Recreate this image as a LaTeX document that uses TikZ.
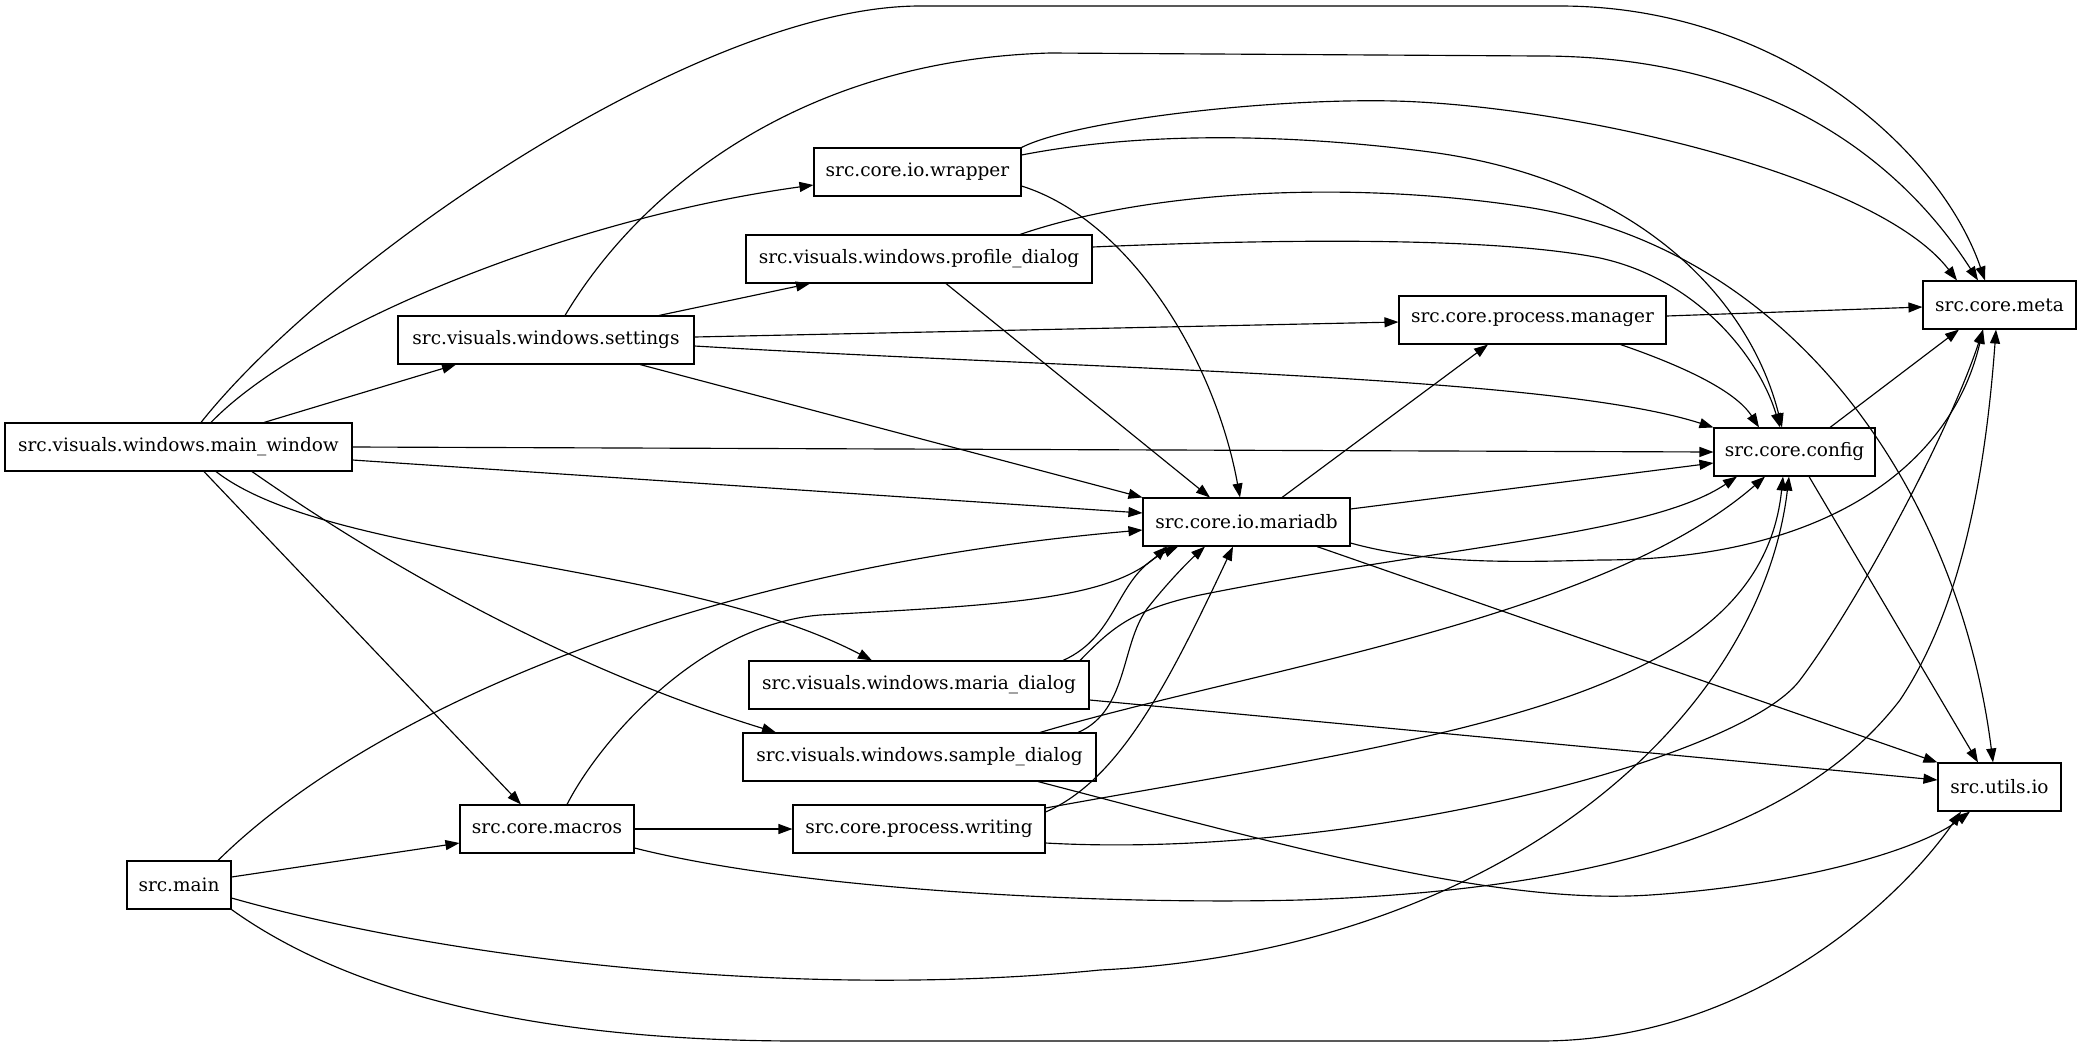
\documentclass[tikz,border=0pt]{standalone}
\usepackage{fontspec}
\setmainfont{DejaVu Serif}
\usetikzlibrary{arrows.meta}
\begin{document}
\begin{tikzpicture}[x=1pt,y=-1pt,
  box/.style={draw, line width=1.1pt, minimum height=48pt, inner sep=0pt, fill=white, font=\fontsize{18.5}{20}\selectfont},
  edge/.style={line width=1.15pt, line join=round, -{Triangle[length=14pt,width=10pt]}}]
\fill[white] (0,0) rectangle (2080,1045);
\useasboundingbox (0,0) rectangle (2080,1045);
% nodes
\node[box, minimum width=347pt] (mw) at (178.5,447) {src.visuals.windows.main\_window};
\node[box, minimum width=104pt] (smain) at (179,885) {src.main};
\node[box, minimum width=296pt] (settings) at (546,340) {src.visuals.windows.settings};
\node[box, minimum width=174pt] (macros) at (547,829) {src.core.macros};
\node[box, minimum width=207pt] (wrapper) at (917.5,172) {src.core.io.wrapper};
\node[box, minimum width=346pt] (profile) at (919,259) {src.visuals.windows.profile\_dialog};
\node[box, minimum width=340pt] (mdialog) at (919,685) {src.visuals.windows.maria\_dialog};
\node[box, minimum width=353pt] (sdialog) at (919.5,757) {src.visuals.windows.sample\_dialog};
\node[box, minimum width=252pt] (writing) at (919,829) {src.core.process.writing};
\node[box, minimum width=207pt] (mariadb) at (1246.5,522) {src.core.io.mariadb};
\node[box, minimum width=267pt] (pm) at (1532.5,320) {src.core.process.manager};
\node[box, minimum width=161pt] (config) at (1794.5,452) {src.core.config};
\node[box, minimum width=153pt] (meta) at (1999.5,305) {src.core.meta};
\node[box, minimum width=123pt] (uio) at (1999.5,787) {src.utils.io};
% main_window
\draw[edge] ([xshift=22.5pt]mw.north) .. controls (330,260) and (700,6) .. (920,6) -- (1560,6) .. controls (1780,6) and (1940,150) .. ([xshift=-14.5pt]meta.north);
\draw[edge] ([xshift=32.5pt]mw.north) .. controls (300,330) and (560,220) .. ([yshift=-13pt]wrapper.west);
\draw[edge] ([xshift=85.5pt]mw.north) -- ([xshift=-90pt]settings.south);
\draw[edge] (mw.east) -- (config.west);
\draw[edge] ([yshift=-13pt]mw.east) -- ([yshift=9pt]mariadb.west);
\draw[edge] ([xshift=25.5pt]mw.south) -- ([xshift=-26pt]macros.north);
\draw[edge] ([xshift=37.5pt]mw.south) .. controls (330,560) and (680,560) .. ([xshift=-47pt]mdialog.north);
\draw[edge] ([xshift=73.5pt]mw.south) .. controls (350,540) and (540,660) .. ([xshift=-143.5pt]sdialog.north);
% settings
\draw[edge] ([xshift=19pt]settings.north) .. controls (640,190) and (800,60) .. (1050,53) -- (1540,56) .. controls (1800,56) and (1920,190) .. ([xshift=-21.5pt]meta.north);
\draw[edge] ([xshift=113pt]settings.north) -- ([xshift=-109pt]profile.south);
\draw[edge] ([yshift=3pt]settings.east) -- ([yshift=-2pt]pm.west);
\draw[edge] ([yshift=-6pt]settings.east) .. controls (1100,370) and (1550,375) .. (config.north west);
\draw[edge] ([xshift=94pt]settings.south) -- (mariadb.north west);
% wrapper
\draw[edge] (wrapper.north east) .. controls (1080,118) and (1300,95) .. (1419,102) .. controls (1600,112) and (1880,180) .. ([xshift=-42.5pt]meta.north);
\draw[edge] ([yshift=17pt]wrapper.east) .. controls (1150,130) and (1300,135) .. (1430,152) .. controls (1640,180) and (1750,300) .. ([xshift=-12.5pt]config.north);
\draw[edge] ([yshift=-14pt]wrapper.east) .. controls (1130,220) and (1215,360) .. ([xshift=-6.5pt]mariadb.north);
% profile
\draw[edge] ([xshift=101pt]profile.north) .. controls (1150,190) and (1350,180) .. (1526,207) .. controls (1800,250) and (1960,500) .. ([xshift=-6.5pt]uio.north);
\draw[edge] ([yshift=12pt]profile.east) .. controls (1300,238) and (1500,238) .. (1600,258) .. controls (1700,280) and (1760,360) .. ([xshift=-14.5pt]config.north);
\draw[edge] ([xshift=27pt]profile.south) -- ([xshift=-36.5pt]mariadb.north);
% process manager
\draw[edge] ([yshift=4pt]pm.east) -- ([yshift=-2pt]meta.west);
\draw[edge] ([xshift=88pt]pm.south) .. controls (1680,365) and (1735,390) .. ([xshift=-35.5pt]config.north);
% mariadb
\draw[edge] ([xshift=35.5pt]mariadb.north) -- ([xshift=-44.5pt]pm.south);
\draw[edge] ([yshift=13pt]mariadb.east) -- ([yshift=-11pt]config.west);
\draw[edge] ([yshift=-21pt]mariadb.east) .. controls (1430,565) and (1520,562) .. (1600,560) .. controls (1820,560) and (1950,470) .. ([xshift=-16.5pt]meta.south);
\draw[edge] ([xshift=70.5pt]mariadb.south) -- (uio.north west);
% config
\draw[edge] ([xshift=35.5pt]config.north) -- ([xshift=-40.5pt]meta.south);
\draw[edge] ([xshift=14.5pt]config.south) -- ([xshift=-21.5pt]uio.north);
% src.main
\draw[edge] ([xshift=39pt]smain.north) .. controls (360,720) and (680,570) .. ([yshift=-8pt]mariadb.west);
\draw[edge] ([yshift=8pt]smain.east) -- ([yshift=-14pt]macros.west);
\draw[edge] ([yshift=-13pt]smain.east) .. controls (450,960) and (800,1000) .. (1100,970) .. controls (1500,950) and (1760,720) .. ([xshift=-5.5pt]config.south);
\draw[edge] (smain.south east) .. controls (330,980) and (500,1041) .. (800,1041) -- (1540,1041) .. controls (1750,1041) and (1900,900) .. ([xshift=-38.5pt]uio.south);
% macros
\draw[edge] (macros.east) -- (writing.west);
\draw[edge] ([xshift=20pt]macros.north) .. controls (600,740) and (700,625) .. (820,615) .. controls (1000,605) and (1110,600) .. ([xshift=-79.5pt]mariadb.south);
\draw[edge] ([yshift=-19pt]macros.east) .. controls (800,890) and (1100,905) .. (1300,900) .. controls (1600,890) and (1800,830) .. (1900,700) .. controls (1960,610) and (1985,480) .. ([xshift=-3.5pt]meta.south);
% writing
\draw[edge] ([yshift=17pt]writing.east) .. controls (1120,780) and (1170,680) .. ([xshift=-13.5pt]mariadb.south);
\draw[edge] ([yshift=21pt]writing.east) .. controls (1450,735) and (1760,700) .. ([xshift=-11.5pt]config.south);
\draw[edge] ([yshift=-14pt]writing.east) .. controls (1350,860) and (1740,760) .. (1800,680) .. controls (1860,600) and (1950,430) .. ([xshift=-16.5pt]meta.south);
% maria dialog
\draw[edge] ([xshift=144pt]mdialog.north) .. controls (1120,635) and (1115,575) .. ([xshift=-68.5pt]mariadb.south);
\draw[edge] ([xshift=161pt]mdialog.north) .. controls (1110,630) and (1130,610) .. (1200,595) .. controls (1450,545) and (1650,535) .. ([xshift=-57.5pt]config.south);
\draw[edge] ([yshift=-15pt]mdialog.east) -- ([yshift=7pt]uio.west);
% sample dialog
\draw[edge] ([xshift=158.5pt]sdialog.north) .. controls (1130,710) and (1120,640) .. (1150,605) .. controls (1170,580) and (1190,560) .. ([xshift=-41.5pt]mariadb.south);
\draw[edge] ([xshift=120.5pt]sdialog.north) .. controls (1250,670) and (1600,620) .. ([xshift=-29.5pt]config.south);
\draw[edge] ([xshift=118.5pt]sdialog.south) .. controls (1300,850) and (1500,905) .. (1650,895) .. controls (1800,885) and (1920,850) .. ([xshift=-29.5pt]uio.south);
\end{tikzpicture}
\end{document}
